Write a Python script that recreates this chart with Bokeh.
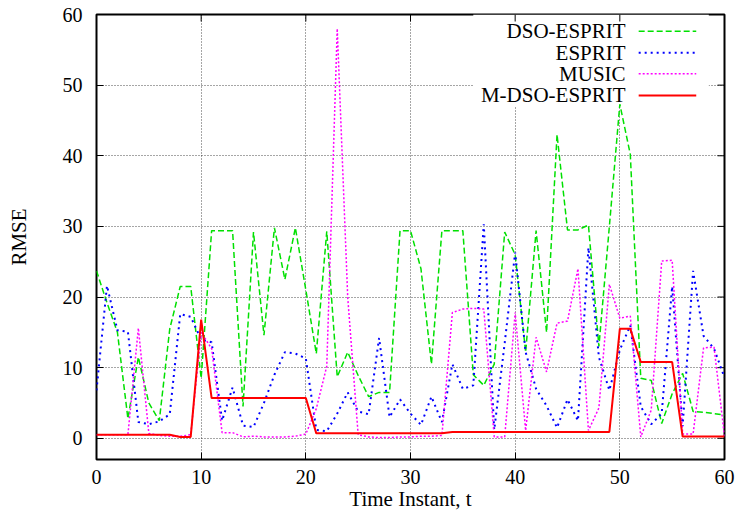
from bokeh.plotting import figure
from bokeh.models import FixedTicker, Range1d, Label, Arrow, BoxAnnotation
from bokeh.embed import file_html
from bokeh.resources import INLINE

# ---- data ----
t = list(range(61))

dso_esprit = [23.7, 19.2, 15.0, 2.8, 11.5, 5.0, 2.5, 15.5, 21.5, 21.5,
              8.5, 29.4, 29.4, 29.4, 4.5, 29.2, 14.6, 29.8, 22.5, 29.8,
              21.0, 12.0, 29.3, 8.7, 12.2, 8.9, 5.9, 6.5, 6.5, 29.4,
              29.4, 24.0, 10.5, 29.4, 29.4, 29.4, 9.0, 7.5, 10.5, 29.2,
              26.0, 12.2, 29.4, 15.0, 43.0, 29.5, 29.5, 30.2, 13.0, 30.0,
              47.3, 40.2, 8.5, 8.2, 2.1, 6.3, 9.2, 3.8, 3.7, 3.5,
              3.3]

esprit = [6.8, 21.6, 15.3, 15.1, 2.3, 2.0, 2.4, 3.4, 17.6, 17.2,
          14.0, 13.6, 2.5, 7.2, 1.8, 1.6, 5.0, 9.0, 12.2, 12.0,
          11.3, 1.2, 1.0, 3.5, 6.5, 3.8, 3.4, 14.2, 3.0, 5.5,
          3.5, 1.9, 5.9, 2.3, 10.5, 7.0, 7.5, 30.3, 1.2, 13.5,
          26.3, 12.2, 7.0, 4.6, 1.5, 5.5, 2.5, 27.0, 11.5, 6.8,
          12.5, 16.0, 4.5, 2.0, 3.5, 21.5, 1.7, 23.7, 14.5, 12.7,
          8.6]

music = [0.5, 0.5, 0.5, 0.5, 15.6, 0.7, 0.4, 0.3, 0.3, 0.5,
         15.0, 12.7, 0.8, 0.8, 0.2, 0.3, 0.2, 0.2, 0.2, 0.3,
         0.6, 4.2, 10.2, 58.0, 20.0, 0.5, 0.2, 0.1, 0.1, 0.2,
         0.2, 0.3, 0.3, 0.4, 17.8, 18.3, 18.4, 18.3, 0.2, 0.2,
         17.8, 1.1, 14.3, 9.4, 16.3, 16.6, 24.0, 1.1, 4.3, 21.8,
         17.0, 17.3, 0.2, 4.0, 25.1, 25.2, 0.6, 0.6, 12.8, 12.9,
         0.3]

m_dso_esprit = [0.5, 0.5, 0.5, 0.5, 0.5, 0.5, 0.5, 0.5, 0.2, 0.2,
                16.8, 5.7, 5.7, 5.7, 5.7, 5.7, 5.7, 5.7, 5.7, 5.7,
                5.7, 0.7, 0.7, 0.7, 0.7, 0.7, 0.7, 0.7, 0.7, 0.7,
                0.7, 0.7, 0.7, 0.7, 0.9, 0.9, 0.9, 0.9, 0.9, 0.9,
                0.9, 0.9, 0.9, 0.9, 0.9, 0.9, 0.9, 0.9, 0.9, 0.9,
                15.5, 15.5, 10.8, 10.8, 10.8, 10.8, 0.25, 0.25, 0.25, 0.25,
                0.25]

x_ticks = [0, 10, 20, 30, 40, 50, 60]
y_ticks = [0, 10, 20, 30, 40, 50, 60]
series_names = ["DSO-ESPRIT", "ESPRIT", "MUSIC", "M-DSO-ESPRIT"]

# ---- styles ----
FONT = "'Liberation Serif', 'Times New Roman', serif"
styles = [
    dict(color="#00e000", dash="6 3", width=1.5),
    dict(color="#0000ff", dash="2 4", width=2),
    dict(color="#ff00ff", dash="2 2", width=1.5),
    dict(color="#ff0000", dash="solid", width=2),
]

X0, X1, Y0, Y1 = 0, 60, -3, 60
p = figure(width=735, height=513,
           x_range=Range1d(X0, X1), y_range=Range1d(Y0, Y1),
           output_backend="svg", toolbar_location=None,
           min_border_left=96, min_border_right=11,
           min_border_top=14, min_border_bottom=54)
p.background_fill_color = "white"
p.border_fill_color = "white"
p.outline_line_color = "black"
p.outline_line_width = 2

# grids
p.xgrid.ticker = FixedTicker(ticks=x_ticks)
p.ygrid.ticker = FixedTicker(ticks=y_ticks)
for g in (p.xgrid[0], p.ygrid[0]):
    g.grid_line_color = "black"
    g.grid_line_alpha = 0.7
    g.grid_line_dash = "1 2"
    g.grid_line_width = 1

# main axes
xa = p.xaxis[0]
ya = p.yaxis[0]
xa.ticker = FixedTicker(ticks=x_ticks)
ya.ticker = FixedTicker(ticks=y_ticks)
for ax in (xa, ya):
    ax.axis_line_color = None
    ax.major_tick_in = 7
    ax.major_tick_out = 0
    ax.minor_tick_in = 0
    ax.minor_tick_out = 0
    ax.major_tick_line_color = "black"
    ax.major_label_text_font = FONT
    ax.major_label_text_font_size = "20px"
    ax.major_label_text_color = "black"
    ax.axis_label_text_font = FONT
    ax.axis_label_text_font_size = "21px"
    ax.axis_label_text_font_style = "normal"
    ax.axis_label_text_color = "black"
xa.axis_label = "Time Instant, t"
ya.axis_label = "RMSE"
xa.major_label_standoff = 10
ya.major_label_standoff = 14
xa.axis_label_standoff = 0
ya.axis_label_standoff = 29

# mirrored inward ticks on top and right edges (from the tick lists)
frame_w = 735 - 96 - 11
frame_h = 513 - 14 - 54
tick_dx = 7 * (X1 - X0) / frame_w
tick_dy = 7 * (Y1 - Y0) / frame_h
p.segment(x0=x_ticks, y0=[Y1] * len(x_ticks), x1=x_ticks,
          y1=[Y1 - tick_dy] * len(x_ticks), line_color="black", line_width=1)
p.segment(x0=[X1] * len(y_ticks), y0=y_ticks, x1=[X1 - tick_dx] * len(y_ticks),
          y1=y_ticks, line_color="black", line_width=1)

# opaque key area
key_box = BoxAnnotation(left=36.0, right=58.5, bottom=47.0, top=Y1,
                        fill_color="white", fill_alpha=1.0,
                        line_color=None, level="underlay")
p.add_layout(key_box)

# data lines
for ys, st in zip([dso_esprit, esprit, music, m_dso_esprit], styles):
    p.line(t, ys, line_color=st["color"], line_dash=st["dash"],
           line_width=st["width"])

# key (labels right-aligned, sample to the right, as in gnuplot)
key_rows_y = [57.64, 54.59, 51.61, 48.54]
for name, st, yy in zip(series_names, styles, key_rows_y):
    p.add_layout(Label(x=50.55, y=yy, text=name, text_align="right",
                       text_baseline="middle", text_font=FONT,
                       text_font_size="21px", text_color="black"))
    p.add_layout(Arrow(x_start=51.8, y_start=yy, x_end=57.3, y_end=yy,
                       end=None, line_color=st["color"],
                       line_dash=st["dash"], line_width=st["width"]))

open("out.html", "w").write(file_html(p, INLINE))
